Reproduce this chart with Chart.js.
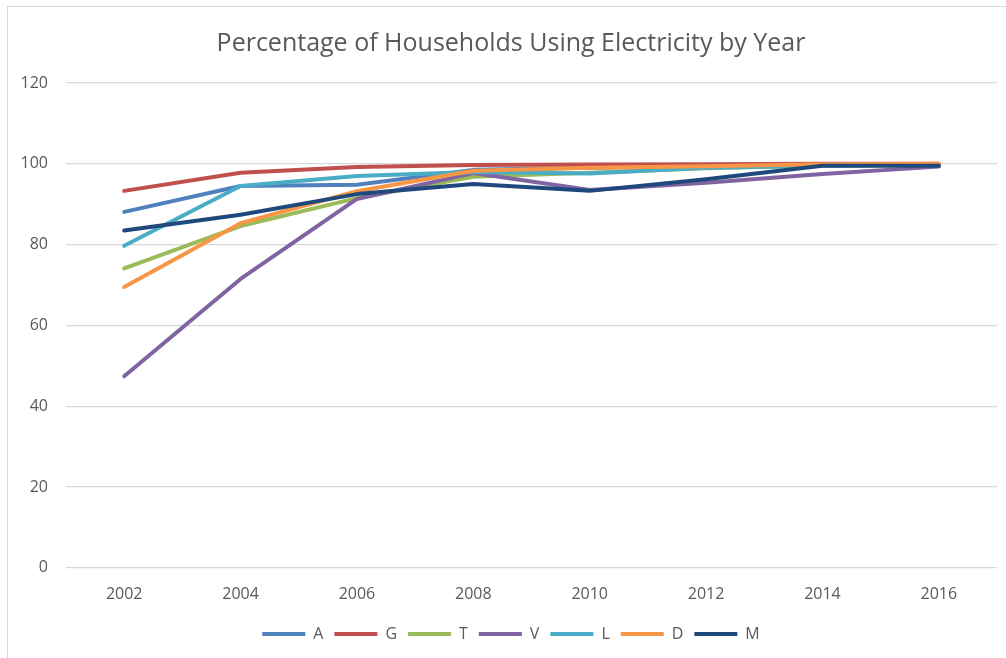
<!DOCTYPE html>
<html lang="en">
<head>
    <meta charset="UTF-8">
    <title>Percentage of Households Using Electricity by Year</title>
    <script src="https://cdn.jsdelivr.net/npm/chart.js"></script>
    <style>
        html, body { margin: 0; padding: 0; background: #fff; overflow: hidden; }
        .frame {
            position: absolute;
            left: 7px;
            top: 6px;
            width: 1020px;
            height: 680px;
            border: 1px solid #d9d9d9;
        }
        .chart-box {
            position: absolute;
            left: 0;
            top: 0;
            width: 1022px;
            height: 658px;
        }
    </style>
</head>
<body>
    <div class="frame"></div>
    <div class="chart-box">
        <canvas id="chart"></canvas>
    </div>
    <script>
        const years = ['2002', '2004', '2006', '2008', '2010', '2012', '2014', '2016'];

        const seriesA = [88.1, 94.5, 94.8, 98.5, 99.0, 99.4, 99.7, 99.9];
        const seriesG = [93.3, 97.8, 99.2, 99.7, 99.8, 99.9, 100.0, 100.0];
        const seriesT = [74.1, 84.6, 91.5, 96.8, 97.8, 98.9, 99.6, 99.9];
        const seriesV = [47.4, 71.5, 91.3, 97.7, 93.5, 95.3, 97.5, 99.3];
        const seriesL = [79.7, 94.5, 97.0, 98.0, 97.6, 99.0, 99.5, 99.8];
        const seriesD = [69.5, 85.3, 93.2, 98.3, 99.0, 99.4, 99.9, 100.0];
        const seriesM = [83.5, 87.4, 92.5, 95.0, 93.3, 96.2, 99.5, 99.5];

        const yTicks = [0, 20, 40, 60, 80, 100, 120];

        const series = [
            { label: 'A', data: seriesA, color: '#4f81bd' },
            { label: 'G', data: seriesG, color: '#c0504d' },
            { label: 'T', data: seriesT, color: '#9bbb59' },
            { label: 'V', data: seriesV, color: '#8064a2' },
            { label: 'L', data: seriesL, color: '#4bacc6' },
            { label: 'D', data: seriesD, color: '#f79646' },
            { label: 'M', data: seriesM, color: '#1f497d' }
        ];

        const textColor = '#595959';
        const fontFamily = '"Open Sans", "Liberation Sans", sans-serif';

        new Chart(document.getElementById('chart'), {
            type: 'line',
            data: {
                labels: years,
                datasets: series.map((s, i) => ({
                    label: s.label,
                    data: s.data,
                    borderColor: s.color,
                    backgroundColor: s.color,
                    borderWidth: 4,
                    borderCapStyle: 'round',
                    borderJoinStyle: 'round',
                    pointRadius: 0,
                    tension: 0,
                    fill: false,
                    // last series painted on top
                    order: series.length - i
                }))
            },
            options: {
                responsive: true,
                maintainAspectRatio: false,
                animation: false,
                layout: {
                    padding: { left: 0, right: 0, top: 0, bottom: 6 }
                },
                plugins: {
                    title: {
                        display: true,
                        text: 'Percentage of Households Using Electricity by Year',
                        color: textColor,
                        font: { family: fontFamily, size: 25, weight: 'normal' },
                        padding: { top: 29, bottom: 24 }
                    },
                    legend: {
                        position: 'bottom',
                        labels: {
                            color: textColor,
                            font: { family: fontFamily, size: 16 },
                            usePointStyle: true,
                            pointStyle: 'line',
                            pointStyleWidth: 43,
                            padding: 11,
                            sort: (a, b) => a.datasetIndex - b.datasetIndex
                        }
                    },
                    tooltip: { enabled: false }
                },
                scales: {
                    x: {
                        offset: true,
                        grid: { display: false },
                        border: { display: false },
                        afterFit: scale => {
                            scale.height += 2;
                        },
                        ticks: {
                            color: textColor,
                            font: { family: fontFamily, size: 16 },
                            padding: 9,
                            maxRotation: 0
                        }
                    },
                    y: {
                        min: 0,
                        max: 120,
                        afterBuildTicks: scale => {
                            scale.ticks = yTicks.map(v => ({ value: v }));
                        },
                        afterFit: scale => {
                            scale.width = 66;
                        },
                        grid: {
                            color: '#d9d9d9',
                            lineWidth: 1.3,
                            drawTicks: false
                        },
                        border: { display: false },
                        ticks: {
                            color: textColor,
                            font: { family: fontFamily, size: 16 },
                            padding: 18
                        }
                    },
                    // empty right-hand margin strip, nothing drawn
                    yRight: {
                        position: 'right',
                        min: 0,
                        max: 120,
                        grid: { display: false },
                        border: { display: false },
                        ticks: { display: false },
                        afterFit: scale => {
                            scale.width = 25;
                        }
                    }
                }
            }
        });
    </script>
</body>
</html>
